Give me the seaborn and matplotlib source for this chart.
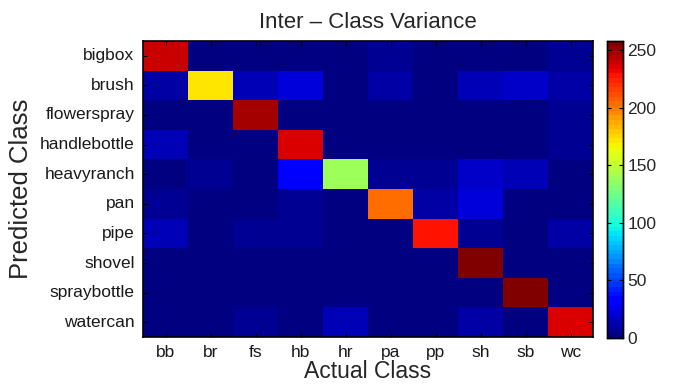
import numpy as np
import pandas as pd
import matplotlib
matplotlib.use("Agg")
import matplotlib.pyplot as plt
import seaborn as sns
from matplotlib.colors import ListedColormap

predicted = ["bigbox", "brush", "flowerspray", "handlebottle", "heavyranch",
             "pan", "pipe", "shovel", "spraybottle", "watercan"]
actual = ["bb", "br", "fs", "hb", "hr", "pa", "pp", "sh", "sb", "wc"]

row_bigbox       = [238, 2, 2, 2, 2, 6, 1, 2, 2, 6]
row_brush        = [12, 173, 16, 24, 2, 9, 1, 16, 17, 11]
row_flowerspray  = [3, 3, 247, 3, 3, 3, 2, 3, 2, 7]
row_handlebottle = [15, 3, 3, 235, 2, 2, 2, 2, 2, 7]
row_heavyranch   = [2, 6, 3, 30, 139, 8, 7, 20, 16, 3]
row_pan          = [8, 3, 3, 5, 2, 205, 10, 24, 2, 3]
row_pipe         = [16, 3, 7, 6, 2, 2, 228, 8, 3, 12]
row_shovel       = [2, 2, 2, 2, 2, 2, 2, 256, 2, 2]
row_spraybottle  = [2, 2, 2, 2, 2, 2, 2, 2, 255, 2]
row_watercan     = [3, 3, 7, 3, 16, 3, 3, 9, 4, 235]

cbar_ticks = [0, 50, 100, 150, 200, 250]

data = pd.DataFrame([row_bigbox, row_brush, row_flowerspray, row_handlebottle,
                     row_heavyranch, row_pan, row_pipe, row_shovel,
                     row_spraybottle, row_watercan],
                    index=predicted, columns=actual)

sns.set_theme(style="white")
plt.rcParams['font.family'] = ['Liberation Sans', 'DejaVu Sans']

cmap = ListedColormap(plt.get_cmap("jet")(np.linspace(0, 1, 64)))

fig = plt.figure(figsize=(6.77, 3.84), dpi=100)
ax = fig.add_axes([143/677, 1 - 337/384, (593-143)/677, (337-41)/384])
cax = fig.add_axes([607/677, 1 - 338/384, (623-607)/677, (338-41)/384])

sns.heatmap(data, ax=ax, cbar_ax=cax, cmap=cmap, vmin=0, vmax=258,
            cbar_kws={"ticks": cbar_ticks})

ax.set_axisbelow(False)
cax.set_axisbelow(False)
for s in ax.spines.values():
    s.set_visible(True)
    s.set_color("black")
    s.set_linewidth(1.2)
ax.tick_params(axis="both", direction="in", length=3, width=0.8, color="black",
               top=True, right=True, bottom=True, left=True, labelsize=12.5,
               labelcolor="#1a1a1a", pad=6)
ax.set_xticklabels(actual, rotation=0)
ax.set_yticklabels(predicted, rotation=0)
ax.set_xlabel("Actual Class", fontsize=16.5, labelpad=0)
ax.set_ylabel("Predicted Class", fontsize=18.5, labelpad=5)
ax.set_title("Inter \u2013 Class Variance", fontsize=16, pad=9)

for s in cax.spines.values():
    s.set_visible(True)
    s.set_color("black")
    s.set_linewidth(1.0)
cax.tick_params(axis="y", direction="in", length=3, width=0.8, color="black",
                labelsize=12.5, left=True, right=True, pad=3)

fig.savefig("out.png", dpi=100)
